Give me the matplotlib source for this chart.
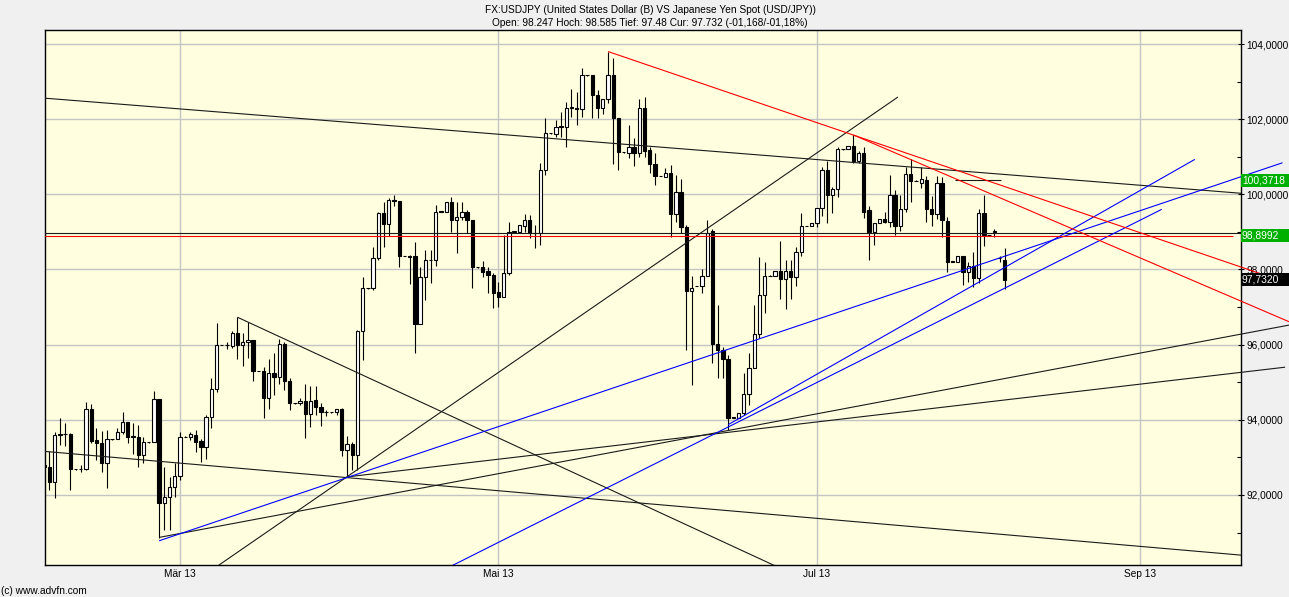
import numpy as np
import pandas as pd
import matplotlib
matplotlib.use('Agg')
import matplotlib.pyplot as plt
import matplotlib.dates as mdates
from matplotlib.patches import Rectangle
from matplotlib.transforms import blended_transform_factory

plt.rcParams['font.family'] = ['Liberation Sans', 'DejaVu Sans']

# ---------------- data (daily candles incl. weekend ticks) ----------------
first_day = '2013-02-03'
last_day = '2013-08-06'

opens = [
    # Feb 3-28
    92.80, 92.74, 92.35, 93.60, 93.62, 93.62, 92.68, 92.68, 92.68, 94.28, 93.46, 93.37, 92.84,
    93.48, 93.48, 93.67, 93.93, 93.57, 93.53, 93.05, 93.40, 93.40, 94.55, 91.78, 91.94, 92.20,
    # Mar
    92.51, 93.55, 93.53, 93.60, 93.44, 93.27, 94.07, 94.81, 95.99, 95.99, 95.96, 96.32, 95.99,
    96.06, 96.12, 95.30, 95.30, 94.57, 95.25, 95.13, 96.02, 95.04, 94.44, 94.44, 94.50, 94.15,
    94.53, 94.35, 94.20, 94.20, 94.20,
    # Apr
    94.28, 93.20, 93.35, 93.05, 96.35, 97.50, 97.50, 98.30, 99.49, 99.20, 99.85, 99.83, 98.36,
    98.36, 98.36, 96.55, 97.79, 98.25, 98.25, 99.54, 99.54, 99.80, 99.33, 99.39, 99.54, 99.33,
    98.06, 98.06, 97.96, 97.85,
    # May
    97.39, 97.28, 97.90, 99.01, 99.01, 99.17, 99.32, 98.98, 98.98, 100.65, 101.62, 101.60, 101.78,
    101.78, 102.31, 102.31, 102.27, 103.17, 103.17, 102.64, 102.29, 102.53, 103.17, 102.02, 101.12,
    101.09, 101.25, 101.09, 102.31, 101.18, 100.80,
    # Jun
    100.49, 100.47, 100.56, 99.48, 100.05, 99.14, 97.44, 97.56, 97.56, 97.83, 99.02, 96.03, 95.86,
    95.61, 94.06, 94.06, 94.17, 94.69, 95.37, 96.27, 97.32, 97.83, 97.83, 97.97, 97.75, 97.97,
    97.79, 98.47, 99.16, 99.16,
    # Jul
    99.23, 99.63, 100.65, 99.98, 100.13, 101.20, 101.20, 101.29, 100.90, 101.09, 99.57, 99.01, 99.23,
    99.34, 99.27, 99.98, 99.16, 99.60, 100.54, 100.36, 100.31, 100.38, 99.60, 99.48, 100.31, 99.29,
    98.21, 98.21, 98.36, 97.92, 98.08,
    # Aug 1-6
    97.78, 99.51, 98.92, 99.01, 98.30, 98.247,
]
highs = [
    92.83, 93.17, 93.67, 94.06, 93.91, 93.64, 92.70, 92.80, 94.47, 94.41, 93.77, 93.70, 93.73,
    93.49, 93.77, 94.20, 93.93, 93.91, 93.86, 93.55, 93.41, 94.77, 94.55, 92.74, 92.49, 92.84,
    93.68, 93.56, 93.68, 93.73, 93.48, 94.13, 95.10, 96.57, 96.00, 96.08, 96.37, 96.73, 96.30,
    96.59, 96.12, 95.31, 95.40, 95.61, 95.77, 96.14, 96.08, 95.10, 94.45, 94.57, 94.95, 94.90,
    94.90, 94.44, 94.25, 94.22, 94.30,
    94.31, 93.57, 93.42, 96.39, 97.81, 97.51, 98.61, 99.54, 99.80, 99.89, 99.98, 99.83, 98.37,
    98.38, 98.74, 98.07, 98.52, 98.52, 99.72, 99.55, 99.80, 99.94, 99.80, 99.80, 99.57, 99.33,
    98.07, 98.23, 98.07, 97.90,
    97.67, 98.92, 99.27, 99.02, 99.18, 99.48, 99.45, 99.18, 100.84, 102.02, 101.63, 101.98, 102.20,
    102.47, 102.79, 102.73, 103.35, 103.18, 103.17, 102.78, 102.55, 103.80, 103.62, 102.02, 101.13,
    101.84, 101.49, 102.55, 102.58, 101.25, 101.09,
    100.50, 100.69, 100.78, 100.51, 100.40, 99.18, 97.83, 97.57, 98.00, 99.33, 99.07, 97.06, 95.95,
    95.72, 94.07, 94.17, 95.24, 95.77, 97.06, 98.34, 98.21, 97.84, 97.97, 98.77, 98.25, 98.25,
    98.61, 99.49, 99.17, 99.23,
    99.63, 100.72, 100.90, 100.19, 101.27, 101.21, 101.29, 101.58, 101.14, 101.27, 99.69, 99.23, 99.34,
    99.54, 100.52, 100.12, 99.98, 100.74, 100.93, 100.37, 100.74, 100.49, 99.96, 100.49, 100.45, 99.41,
    98.22, 98.36, 98.36, 98.21, 98.47,
    99.60, 99.98, 98.93, 99.07, 98.36, 98.585,
]
lows = [
    92.70, 92.13, 91.92, 93.33, 93.29, 92.13, 92.66, 92.62, 92.66, 93.37, 92.93, 92.62, 92.18,
    93.47, 93.48, 93.61, 93.37, 93.09, 92.74, 92.84, 93.39, 93.40, 90.85, 91.07, 91.07, 91.95,
    92.40, 93.54, 93.46, 93.15, 92.89, 92.95, 93.77, 94.75, 95.98, 95.88, 95.90, 95.61, 95.43,
    95.64, 95.04, 95.29, 94.04, 94.29, 94.66, 94.95, 94.79, 94.26, 94.43, 94.39, 93.51, 93.82,
    94.13, 93.84, 94.10, 94.18, 94.12,
    93.04, 92.49, 92.66, 92.66, 95.59, 97.49, 97.45, 98.25, 98.61, 98.89, 99.70, 98.07, 98.35,
    97.61, 95.77, 96.55, 97.19, 97.63, 98.09, 99.53, 99.54, 99.01, 98.45, 99.33, 98.96, 97.52,
    98.05, 97.81, 97.37, 96.97,
    97.01, 97.28, 97.86, 99.00, 99.01, 99.01, 98.83, 98.56, 98.65, 100.51, 101.61, 101.53, 101.53,
    101.25, 102.05, 101.84, 102.07, 103.16, 102.02, 102.02, 102.14, 102.42, 100.82, 100.66, 101.11,
    100.96, 100.75, 101.00, 101.00, 100.58, 100.25,
    100.48, 100.45, 98.87, 99.27, 98.98, 95.86, 94.93, 97.55, 97.38, 97.83, 95.50, 95.10, 95.10,
    93.72, 94.05, 94.06, 94.13, 94.39, 95.37, 96.17, 96.83, 97.82, 97.83, 97.21, 96.94, 97.21,
    97.56, 98.36, 99.15, 99.16,
    99.14, 99.42, 99.25, 99.49, 99.93, 101.19, 101.20, 100.83, 100.83, 99.36, 98.25, 98.65, 99.23,
    99.23, 99.14, 98.92, 99.03, 99.54, 99.80, 100.35, 100.16, 99.27, 99.16, 99.34, 98.87, 97.94,
    98.20, 98.21, 97.59, 97.68, 97.54,
    97.63, 98.63, 98.91, 98.86, 98.21, 97.48,
]
closes = [
    92.74, 92.35, 93.60, 93.62, 93.62, 92.68, 92.68, 92.68, 94.28, 93.44, 93.37, 92.84, 93.48,
    93.48, 93.67, 93.93, 93.55, 93.53, 93.05, 93.40, 93.40, 94.55, 91.78, 91.94, 92.20, 92.51,
    93.55, 93.55, 93.62, 93.40, 93.27, 94.07, 94.81, 95.99, 95.99, 95.99, 96.32, 95.99, 96.06,
    96.12, 95.30, 95.30, 94.57, 95.25, 95.13, 96.02, 95.04, 94.44, 94.44, 94.50, 94.15, 94.51,
    94.35, 94.20, 94.20, 94.20, 94.28,
    93.20, 93.35, 93.05, 96.35, 97.50, 97.50, 98.30, 99.49, 99.20, 99.85, 99.81, 98.36, 98.36,
    98.34, 96.55, 97.79, 98.25, 98.25, 99.54, 99.54, 99.80, 99.33, 99.39, 99.54, 99.33, 98.06,
    98.06, 97.94, 97.84, 97.38,
    97.28, 97.90, 99.01, 99.01, 99.18, 99.33, 98.98, 98.98, 100.65, 101.62, 101.62, 101.78, 101.82,
    102.31, 102.33, 102.27, 103.17, 103.17, 102.64, 102.29, 102.53, 103.17, 102.02, 101.13, 101.12,
    101.25, 101.09, 102.31, 101.16, 100.80, 100.49,
    100.49, 100.56, 99.48, 100.05, 99.14, 97.44, 97.50, 97.56, 97.83, 98.98, 96.03, 95.87, 95.61,
    94.05, 94.06, 94.17, 94.69, 95.37, 96.27, 97.32, 97.83, 97.83, 97.97, 97.75, 97.97, 97.79,
    98.47, 99.16, 99.16, 99.23,
    99.63, 100.65, 99.98, 100.13, 101.20, 101.20, 101.29, 100.90, 101.09, 99.54, 99.01, 99.23, 99.34,
    99.27, 99.98, 99.16, 99.60, 100.54, 100.36, 100.36, 100.40, 99.60, 99.48, 100.31, 99.32, 98.21,
    98.21, 98.36, 97.92, 98.08, 97.78,
    99.51, 98.92, 98.92, 99.01, 98.30, 97.732,
]

# trendlines: (start date, start price, end date, end price)
black_lines = [
    ('2013-02-03', 102.56, '2013-09-21', 100.02),
    ('2013-02-03', 98.96, '2013-09-21', 98.96),
    ('2013-03-08', 90.09, '2013-07-16 13:00', 102.59),
    ('2013-03-12', 96.73, '2013-06-24', 90.05),
    ('2013-02-03', 93.16, '2013-09-21', 90.39),
    ('2013-07-27 12:00', 100.3718, '2013-08-05 05:00', 100.3718),
]
black_rays = [
    ('2013-02-25', 90.87, '2013-09-29 11:00', 96.52),
    ('2013-04-02', 92.48, '2013-09-28 17:00', 95.40),
]
blue_lines = [
    ('2013-06-14', 93.87, '2013-09-11 10:00', 100.93),
    ('2013-04-22', 90.11, '2013-09-05 01:30', 99.60),
]
blue_rays = [
    ('2013-02-25', 90.78, '2013-09-28 05:00', 100.84),
]
red_lines = [
    ('2013-02-03', 98.8992, '2013-09-18 17:00', 98.8992),
]
red_rays = [
    ('2013-05-22', 103.80, '2013-09-29 11:00', 97.63),
    ('2013-07-08', 101.58, '2013-09-29 11:00', 96.61),
]

price_tags = [(100.3718, '#00b000'), (98.8992, '#00b000'), (97.732, '#000000')]

y_ticks = [92, 94, 96, 98, 100, 102, 104]
y_minor = [91, 93, 95, 97, 99, 101, 103]
x_tick_dates = ['2013-03-01', '2013-05-01', '2013-07-01', '2013-09-01']
x_tick_labels = ['Mär 13', 'Mai 13', 'Jul 13', 'Sep 13']

title1 = 'FX:USDJPY (United States Dollar (B) VS Japanese Yen Spot (USD/JPY))'
title2 = 'Open: 98.247 Hoch: 98.585 Tief: 97.48 Cur: 97.732 (-01,168/-01,18%)'

# ---------------- figure ----------------
W, H = 1289, 597
fig = plt.figure(figsize=(W / 100, H / 100), dpi=100, facecolor='#f0f0f0')
ax_l, ax_r, ax_t, ax_b = 45, 1240.7, 30, 565.3
ax = fig.add_axes([ax_l / W, 1 - ax_b / H, (ax_r - ax_l) / W, (ax_b - ax_t) / H])
ax.set_facecolor('#ffffdf')

dates = pd.date_range(first_day, last_day, freq='D')
assert len(dates) == len(opens) == len(highs) == len(lows) == len(closes)
x = mdates.date2num(dates.to_pydatetime())
o = np.array(opens); h = np.array(highs); l = np.array(lows); c = np.array(closes)

ref = mdates.date2num(pd.Timestamp('2013-03-01').to_pydatetime())
ax.set_xlim(ref - 25.86, ref + 203.2)
ax.set_ylim(90.128, 104.373)

# wicks
ax.vlines(x, l, h, color='black', lw=0.8, zorder=3)
# bodies
up = c >= o
bottom = np.minimum(o, c)
height = np.maximum(np.abs(c - o), 0.004)
face = np.where(up, 'white', 'black')
ax.bar(x, height, bottom=bottom, width=0.64, color=face, edgecolor='black',
       linewidth=0.8, zorder=4, align='center')

def tnum(s):
    return mdates.date2num(pd.Timestamp(s).to_pydatetime())

def draw(lines, color, clip):
    for (d0, v0, d1, v1) in lines:
        ax.plot([tnum(d0), tnum(d1)], [v0, v1], color=color, lw=0.8,
                zorder=6, clip_on=clip, solid_capstyle='butt')

draw(black_lines, '#1a1a1a', True)
draw(black_rays, '#1a1a1a', False)
draw(blue_lines, '#0000ff', True)
draw(blue_rays, '#0000ff', False)
draw(red_lines, '#ff0000', True)
draw(red_rays, '#ff0000', False)

# grid & ticks
ax.set_yticks(y_ticks)
ax.set_yticks(y_minor, minor=True)
ax.set_yticklabels([f'{v:.4f}'.replace('.', ',') for v in y_ticks])
ax.set_xticks([tnum(d) for d in x_tick_dates])
ax.set_xticklabels(x_tick_labels)
ax.grid(True, which='major', color='#c4c4c4', lw=1.0, zorder=0)
ax.set_axisbelow(True)
ax.yaxis.tick_right()
ax.tick_params(axis='y', which='major', direction='inout', length=5, width=0.8,
               labelsize=7.3, pad=1.5, colors='black')
ax.tick_params(axis='y', which='minor', direction='in', length=3, width=0.8)
ax.tick_params(axis='x', which='major', length=0, labelsize=7.3, pad=3)
for sp in ax.spines.values():
    sp.set_color('black')
    sp.set_linewidth(1.0)

# price tags on the right axis
trans = blended_transform_factory(fig.transFigure, ax.transData)
for val, col in price_tags:
    hh = 13.5 / 37.58
    ax.add_patch(Rectangle((ax_r / W, val - hh / 2), 1 - ax_r / W, hh,
                           transform=trans, facecolor=col, edgecolor='none',
                           clip_on=False, zorder=10))
    ax.text(1242 / W, val, f'{val:.4f}'.replace('.', ','), transform=trans,
            color='white', fontsize=7.4, va='center', ha='left', zorder=11,
            clip_on=False)

fig.text(650 / W, 1 - 10 / H, title1, ha='center', va='center', fontsize=7.3)
fig.text(650 / W, 1 - 23 / H, title2, ha='center', va='center', fontsize=7.3)
fig.text(1 / W, 1 - 591.5 / H, '(c) www.advfn.com', ha='left', va='center', fontsize=7.3)

fig.savefig('out.png', dpi=100, facecolor=fig.get_facecolor())
